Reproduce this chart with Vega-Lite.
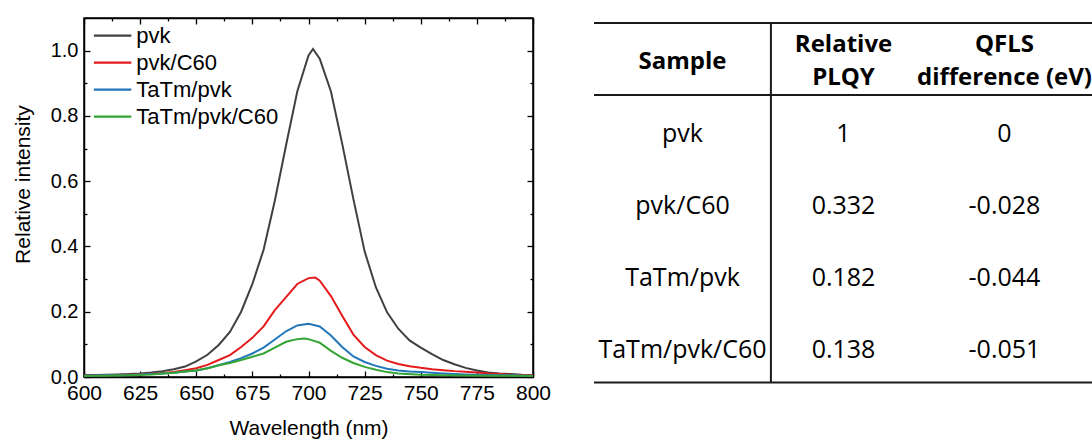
{
  "$schema": "https://vega.github.io/schema/vega-lite/v6.json",
  "background": "white",
  "padding": {"left": 11, "top": 16, "right": 0, "bottom": 0},
  "spacing": 41,
  "config": {
    "font": "Liberation Sans",
    "view": {"stroke": null},
    "axis": {"domainColor": "black", "domainWidth": 1.5, "tickColor": "black", "tickWidth": 1.3, "labelColor": "black", "titleColor": "black", "grid": false, "titleFontWeight": "normal", "labelFont": "Liberation Sans", "titleFont": "Liberation Sans"}
  },
  "hconcat": [
    {
      "width": 449,
      "height": 359,
      "view": {"stroke": "black", "strokeWidth": 1.5},
      "data": {"values": [
        {"sample":"pvk","wavelength":600,"intensity":0.005},{"sample":"pvk","wavelength":605,"intensity":0.006},{"sample":"pvk","wavelength":610,"intensity":0.007},{"sample":"pvk","wavelength":615,"intensity":0.008},{"sample":"pvk","wavelength":620,"intensity":0.009},{"sample":"pvk","wavelength":625,"intensity":0.011},{"sample":"pvk","wavelength":630,"intensity":0.014},{"sample":"pvk","wavelength":635,"intensity":0.018},{"sample":"pvk","wavelength":640,"intensity":0.024},{"sample":"pvk","wavelength":645,"intensity":0.032},{"sample":"pvk","wavelength":650,"intensity":0.048},{"sample":"pvk","wavelength":655,"intensity":0.068},{"sample":"pvk","wavelength":660,"intensity":0.098},{"sample":"pvk","wavelength":665,"intensity":0.138},{"sample":"pvk","wavelength":670,"intensity":0.2},{"sample":"pvk","wavelength":675,"intensity":0.285},{"sample":"pvk","wavelength":680,"intensity":0.39},{"sample":"pvk","wavelength":685,"intensity":0.54},{"sample":"pvk","wavelength":690,"intensity":0.71},{"sample":"pvk","wavelength":695,"intensity":0.875},{"sample":"pvk","wavelength":700,"intensity":0.985},{"sample":"pvk","wavelength":702,"intensity":1.005},{"sample":"pvk","wavelength":705,"intensity":0.975},{"sample":"pvk","wavelength":710,"intensity":0.875},{"sample":"pvk","wavelength":715,"intensity":0.715},{"sample":"pvk","wavelength":720,"intensity":0.545},{"sample":"pvk","wavelength":725,"intensity":0.385},{"sample":"pvk","wavelength":730,"intensity":0.275},{"sample":"pvk","wavelength":735,"intensity":0.198},{"sample":"pvk","wavelength":740,"intensity":0.148},{"sample":"pvk","wavelength":745,"intensity":0.112},{"sample":"pvk","wavelength":750,"intensity":0.09},{"sample":"pvk","wavelength":755,"intensity":0.07},{"sample":"pvk","wavelength":760,"intensity":0.052},{"sample":"pvk","wavelength":765,"intensity":0.039},{"sample":"pvk","wavelength":770,"intensity":0.028},{"sample":"pvk","wavelength":775,"intensity":0.02},{"sample":"pvk","wavelength":780,"intensity":0.014},{"sample":"pvk","wavelength":785,"intensity":0.011},{"sample":"pvk","wavelength":790,"intensity":0.009},{"sample":"pvk","wavelength":795,"intensity":0.007},{"sample":"pvk","wavelength":800,"intensity":0.006},
        {"sample":"pvk/C60","wavelength":600,"intensity":0.004},{"sample":"pvk/C60","wavelength":610,"intensity":0.005},{"sample":"pvk/C60","wavelength":620,"intensity":0.007},{"sample":"pvk/C60","wavelength":630,"intensity":0.01},{"sample":"pvk/C60","wavelength":635,"intensity":0.012},{"sample":"pvk/C60","wavelength":640,"intensity":0.015},{"sample":"pvk/C60","wavelength":645,"intensity":0.021},{"sample":"pvk/C60","wavelength":650,"intensity":0.027},{"sample":"pvk/C60","wavelength":655,"intensity":0.037},{"sample":"pvk/C60","wavelength":660,"intensity":0.052},{"sample":"pvk/C60","wavelength":665,"intensity":0.067},{"sample":"pvk/C60","wavelength":670,"intensity":0.092},{"sample":"pvk/C60","wavelength":675,"intensity":0.12},{"sample":"pvk/C60","wavelength":680,"intensity":0.155},{"sample":"pvk/C60","wavelength":685,"intensity":0.205},{"sample":"pvk/C60","wavelength":690,"intensity":0.245},{"sample":"pvk/C60","wavelength":695,"intensity":0.285},{"sample":"pvk/C60","wavelength":700,"intensity":0.303},{"sample":"pvk/C60","wavelength":703,"intensity":0.305},{"sample":"pvk/C60","wavelength":705,"intensity":0.295},{"sample":"pvk/C60","wavelength":710,"intensity":0.248},{"sample":"pvk/C60","wavelength":715,"intensity":0.188},{"sample":"pvk/C60","wavelength":720,"intensity":0.13},{"sample":"pvk/C60","wavelength":725,"intensity":0.092},{"sample":"pvk/C60","wavelength":730,"intensity":0.067},{"sample":"pvk/C60","wavelength":735,"intensity":0.05},{"sample":"pvk/C60","wavelength":740,"intensity":0.04},{"sample":"pvk/C60","wavelength":745,"intensity":0.033},{"sample":"pvk/C60","wavelength":750,"intensity":0.028},{"sample":"pvk/C60","wavelength":755,"intensity":0.024},{"sample":"pvk/C60","wavelength":760,"intensity":0.021},{"sample":"pvk/C60","wavelength":765,"intensity":0.018},{"sample":"pvk/C60","wavelength":770,"intensity":0.016},{"sample":"pvk/C60","wavelength":775,"intensity":0.014},{"sample":"pvk/C60","wavelength":780,"intensity":0.011},{"sample":"pvk/C60","wavelength":785,"intensity":0.009},{"sample":"pvk/C60","wavelength":790,"intensity":0.007},{"sample":"pvk/C60","wavelength":800,"intensity":0.005},
        {"sample":"TaTm/pvk","wavelength":600,"intensity":0.004},{"sample":"TaTm/pvk","wavelength":610,"intensity":0.005},{"sample":"TaTm/pvk","wavelength":620,"intensity":0.006},{"sample":"TaTm/pvk","wavelength":630,"intensity":0.009},{"sample":"TaTm/pvk","wavelength":640,"intensity":0.013},{"sample":"TaTm/pvk","wavelength":645,"intensity":0.017},{"sample":"TaTm/pvk","wavelength":650,"intensity":0.02},{"sample":"TaTm/pvk","wavelength":655,"intensity":0.027},{"sample":"TaTm/pvk","wavelength":660,"intensity":0.036},{"sample":"TaTm/pvk","wavelength":665,"intensity":0.046},{"sample":"TaTm/pvk","wavelength":670,"intensity":0.058},{"sample":"TaTm/pvk","wavelength":675,"intensity":0.072},{"sample":"TaTm/pvk","wavelength":680,"intensity":0.09},{"sample":"TaTm/pvk","wavelength":685,"intensity":0.115},{"sample":"TaTm/pvk","wavelength":690,"intensity":0.14},{"sample":"TaTm/pvk","wavelength":695,"intensity":0.158},{"sample":"TaTm/pvk","wavelength":700,"intensity":0.163},{"sample":"TaTm/pvk","wavelength":705,"intensity":0.155},{"sample":"TaTm/pvk","wavelength":710,"intensity":0.127},{"sample":"TaTm/pvk","wavelength":715,"intensity":0.092},{"sample":"TaTm/pvk","wavelength":720,"intensity":0.063},{"sample":"TaTm/pvk","wavelength":725,"intensity":0.046},{"sample":"TaTm/pvk","wavelength":730,"intensity":0.034},{"sample":"TaTm/pvk","wavelength":735,"intensity":0.025},{"sample":"TaTm/pvk","wavelength":740,"intensity":0.02},{"sample":"TaTm/pvk","wavelength":745,"intensity":0.017},{"sample":"TaTm/pvk","wavelength":750,"intensity":0.015},{"sample":"TaTm/pvk","wavelength":760,"intensity":0.011},{"sample":"TaTm/pvk","wavelength":770,"intensity":0.008},{"sample":"TaTm/pvk","wavelength":780,"intensity":0.006},{"sample":"TaTm/pvk","wavelength":790,"intensity":0.005},{"sample":"TaTm/pvk","wavelength":800,"intensity":0.004},
        {"sample":"TaTm/pvk/C60","wavelength":600,"intensity":0.003},{"sample":"TaTm/pvk/C60","wavelength":610,"intensity":0.004},{"sample":"TaTm/pvk/C60","wavelength":620,"intensity":0.005},{"sample":"TaTm/pvk/C60","wavelength":630,"intensity":0.008},{"sample":"TaTm/pvk/C60","wavelength":640,"intensity":0.013},{"sample":"TaTm/pvk/C60","wavelength":645,"intensity":0.017},{"sample":"TaTm/pvk/C60","wavelength":650,"intensity":0.02},{"sample":"TaTm/pvk/C60","wavelength":655,"intensity":0.027},{"sample":"TaTm/pvk/C60","wavelength":660,"intensity":0.036},{"sample":"TaTm/pvk/C60","wavelength":665,"intensity":0.043},{"sample":"TaTm/pvk/C60","wavelength":670,"intensity":0.052},{"sample":"TaTm/pvk/C60","wavelength":675,"intensity":0.062},{"sample":"TaTm/pvk/C60","wavelength":680,"intensity":0.072},{"sample":"TaTm/pvk/C60","wavelength":685,"intensity":0.09},{"sample":"TaTm/pvk/C60","wavelength":690,"intensity":0.108},{"sample":"TaTm/pvk/C60","wavelength":695,"intensity":0.116},{"sample":"TaTm/pvk/C60","wavelength":698,"intensity":0.118},{"sample":"TaTm/pvk/C60","wavelength":700,"intensity":0.116},{"sample":"TaTm/pvk/C60","wavelength":705,"intensity":0.105},{"sample":"TaTm/pvk/C60","wavelength":710,"intensity":0.08},{"sample":"TaTm/pvk/C60","wavelength":715,"intensity":0.059},{"sample":"TaTm/pvk/C60","wavelength":720,"intensity":0.043},{"sample":"TaTm/pvk/C60","wavelength":725,"intensity":0.031},{"sample":"TaTm/pvk/C60","wavelength":730,"intensity":0.022},{"sample":"TaTm/pvk/C60","wavelength":735,"intensity":0.015},{"sample":"TaTm/pvk/C60","wavelength":740,"intensity":0.011},{"sample":"TaTm/pvk/C60","wavelength":750,"intensity":0.007},{"sample":"TaTm/pvk/C60","wavelength":760,"intensity":0.005},{"sample":"TaTm/pvk/C60","wavelength":780,"intensity":0.004},{"sample":"TaTm/pvk/C60","wavelength":800,"intensity":0.003}
      ]},
      "layer": [
        {
          "mark": {"type": "line", "strokeWidth": 2},
          "encoding": {
            "x": {"field": "wavelength", "type": "quantitative", "scale": {"domain": [600, 800], "nice": false, "zero": false},
              "axis": {"orient": "bottom", "title": "Wavelength (nm)", "titleFontSize": 21, "titlePadding": 11, "labelFontSize": 21, "labelPadding": 11, "labelFlush": false, "labelOverlap": false,
                "values": [600,612.5,625,637.5,650,662.5,675,687.5,700,712.5,725,737.5,750,762.5,775,787.5,800],
                "labelExpr": "datum.value % 25 == 0 ? format(datum.value, 'd') : ''",
                "tickSize": {"condition": {"test": "datum.value % 25 == 0", "value": -6}, "value": -3}}},
            "y": {"field": "intensity", "type": "quantitative", "scale": {"domain": [0, 1.1], "nice": false},
              "axis": {"orient": "left", "title": "Relative intensity", "titleFontSize": 21, "titlePadding": 17, "titleY": 166, "labelFontSize": 20, "labelPadding": 12, "labelFlush": false, "labelOverlap": false,
                "values": [0,0.1,0.2,0.3,0.4,0.5,0.6,0.7,0.8,0.9,1.0],
                "labelExpr": "round(datum.value*10) % 2 == 0 ? format(datum.value, '.1f') : ''",
                "tickSize": {"condition": {"test": "round(datum.value*10) % 2 == 0", "value": -6}, "value": -3}}},
            "color": {"field": "sample", "type": "nominal",
              "scale": {"domain": ["pvk", "pvk/C60", "TaTm/pvk", "TaTm/pvk/C60"], "range": ["#404040", "#e41a1c", "#2277bb", "#34a534"]},
              "legend": {"orient": "top-left", "title": null, "offset": 0, "padding": 6.7, "symbolType": "M-2,0H2", "symbolSize": 350, "symbolOffset": 10.9, "symbolStrokeWidth": 2.2, "labelFontSize": 22, "labelFont": "Liberation Sans", "labelColor": "black", "labelOffset": 12.7, "rowPadding": 5, "labelLimit": 300}}
          }
        },
        {
          "mark": {"type": "line", "opacity": 0},
          "encoding": {
            "x": {"field": "wavelength", "type": "quantitative",
              "axis": {"orient": "top", "title": null, "labels": false,
                "values": [600,612.5,625,637.5,650,662.5,675,687.5,700,712.5,725,737.5,750,762.5,775,787.5,800],
                "tickSize": {"condition": {"test": "datum.value % 25 == 0", "value": -6}, "value": -3}}},
            "y": {"field": "intensity", "type": "quantitative",
              "axis": {"orient": "right", "title": null, "labels": false,
                "values": [0,0.1,0.2,0.3,0.4,0.5,0.6,0.7,0.8,0.9,1.0],
                "tickSize": {"condition": {"test": "round(datum.value*10) % 2 == 0", "value": -6}, "value": -3}}}
          }
        }
      ],
      "resolve": {"axis": {"x": "independent", "y": "independent"}}
    },
    {
      "width": 499,
      "height": 365,
      "view": {"stroke": null},
      "layer": [
        {
          "data": {"values": [
            {"x1": 0.45, "x2": 3.55, "y1": -0.542, "y2": -0.542},
            {"x1": 0.45, "x2": 3.55, "y1": 0.458, "y2": 0.458},
            {"x1": 0.45, "x2": 3.55, "y1": 4.45, "y2": 4.45},
            {"x1": 1.549, "x2": 1.549, "y1": -0.542, "y2": 4.45}
          ]},
          "mark": {"type": "rule", "strokeWidth": 2, "color": "#1a1a1a"},
          "encoding": {
            "x": {"field": "x1", "type": "quantitative", "scale": {"domain": [0.45, 3.55], "nice": false, "zero": false}, "axis": null},
            "x2": {"field": "x2"},
            "y": {"field": "y1", "type": "quantitative", "scale": {"domain": [-0.611, 4.458], "reverse": true, "nice": false, "zero": false}, "axis": null},
            "y2": {"field": "y2"}
          }
        },
        {
          "data": {"values": [
            {"col": 1, "row": 0, "label": "Sample"}
          ]},
          "mark": {"type": "text", "font": "Open Sans", "fontSize": 24, "fontWeight": "bold", "baseline": "middle", "align": "center", "color": "black"},
          "encoding": {
            "x": {"field": "col", "type": "quantitative"},
            "y": {"field": "row", "type": "quantitative"},
            "text": {"field": "label"}
          }
        },
        {
          "data": {"values": [
            {"col": 2, "row": 0, "label": "Relative\nPLQY"},
            {"col": 3, "row": 0, "label": "QFLS\ndifference (eV)"}
          ]},
          "mark": {"type": "text", "font": "Open Sans", "fontSize": 24, "fontWeight": "bold", "lineBreak": "\n", "lineHeight": 33, "baseline": "middle", "align": "center", "dy": -17, "color": "black"},
          "encoding": {
            "x": {"field": "col", "type": "quantitative"},
            "y": {"field": "row", "type": "quantitative"},
            "text": {"field": "label"}
          }
        },
        {
          "data": {"values": [
            {"col": 1, "row": 1, "label": "pvk"},
            {"col": 2, "row": 1, "label": "1"},
            {"col": 3, "row": 1, "label": "0"},
            {"col": 1, "row": 2, "label": "pvk/C60"},
            {"col": 2, "row": 2, "label": "0.332"},
            {"col": 3, "row": 2, "label": "-0.028"},
            {"col": 1, "row": 3, "label": "TaTm/pvk"},
            {"col": 2, "row": 3, "label": "0.182"},
            {"col": 3, "row": 3, "label": "-0.044"},
            {"col": 1, "row": 4, "label": "TaTm/pvk/C60"},
            {"col": 2, "row": 4, "label": "0.138"},
            {"col": 3, "row": 4, "label": "-0.051"}
          ]},
          "mark": {"type": "text", "font": "Open Sans", "fontSize": 25, "baseline": "middle", "align": "center", "color": "black"},
          "encoding": {
            "x": {"field": "col", "type": "quantitative"},
            "y": {"field": "row", "type": "quantitative"},
            "text": {"field": "label"}
          }
        }
      ]
    }
  ]
}
